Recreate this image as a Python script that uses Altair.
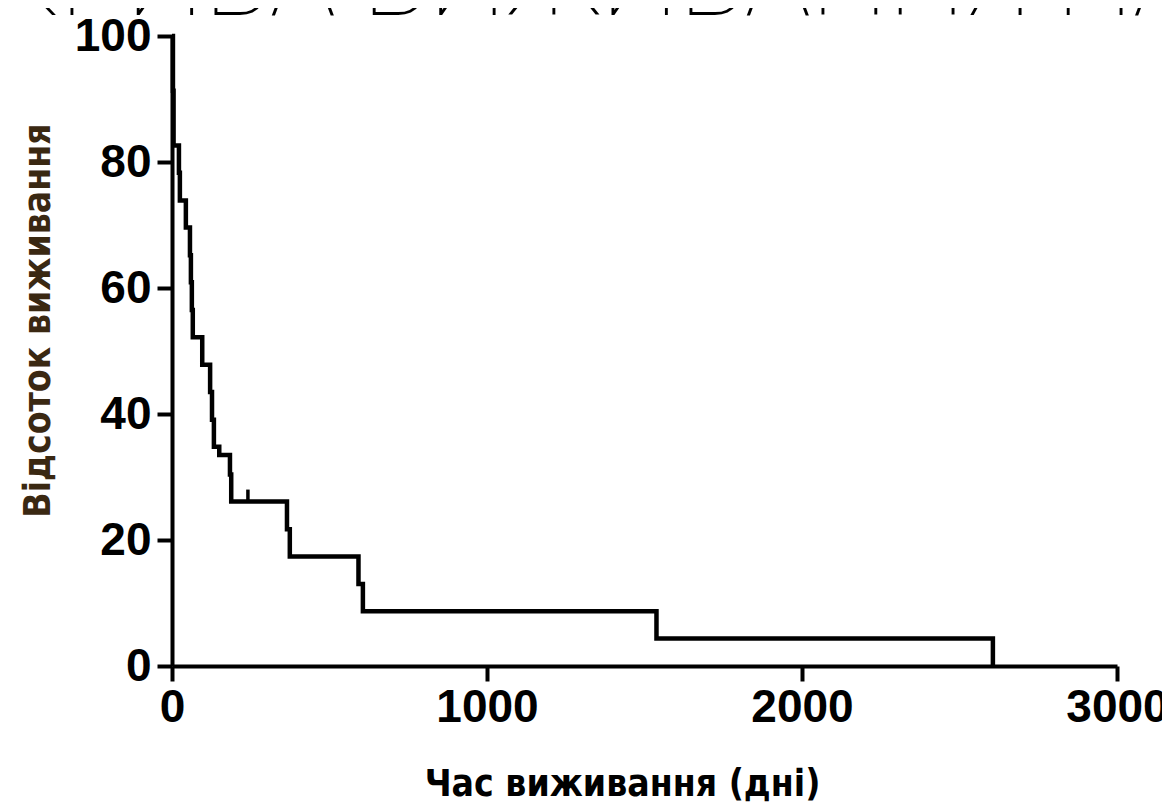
import altair as alt
import pandas as pd

# ---- data ----
title_text = ["КРИВА ВИЖИВАННЯ ПАЦІЄНТІВ ГРУПИ"]

times = [0, 3, 5, 22, 25, 44, 57, 60, 63, 66, 96, 121, 127, 133, 150, 184, 188,
         365, 374, 592, 606, 1538, 2606]
surv = [100, 91.3, 82.6, 78.3, 73.9, 69.6, 65.2, 60.9, 56.5, 52.2, 47.8, 43.5,
        39.1, 34.8, 33.5, 30.4, 26.1, 21.7, 17.4, 13.0, 8.7, 4.35, 0]

censor_t = [241]
censor_s = [26.1]

x_ticks = [0, 1000, 2000, 3000]
y_ticks = [0, 20, 40, 60, 80, 100]

x_title = "Час виживання (дні)"
y_title = "Відсоток виживання"

km = pd.DataFrame({"t": times, "s": surv})
cens = pd.DataFrame({"t": censor_t, "s": censor_s})
ttl = pd.DataFrame({"label": title_text})

x_scale = alt.Scale(domain=[0, 3000], nice=False, zero=True)
y_scale = alt.Scale(domain=[0, 100], nice=False)

title_font = "DejaVu Sans Condensed"

common_axis = dict(
    grid=False, domainColor="black", domainWidth=4, tickColor="black",
    tickWidth=4, tickSize=15, labelFont="Liberation Sans", labelFontWeight="bold",
    labelFontSize=46, labelColor="black", titleFont=title_font,
    titleFontWeight="bold",
)

x_axis = alt.Axis(values=x_ticks, title=x_title, format="d", labelFlush=False,
                  labelPadding=4, titleFontSize=37, titleColor="black",
                  titleX=450, titleY=118, titleAlign="center",
                  titleBaseline="middle", titleAnchor="start", **common_axis)
y_axis = alt.Axis(values=y_ticks, title=y_title, format="d", labelPadding=6,
                  titleFontSize=37, titleColor="#3a2812", titleAngle=-90,
                  titleX=-134, titleY=284, titleAlign="center",
                  titleBaseline="middle", titleAnchor="start", **common_axis)

line = alt.Chart(km).mark_line(
    interpolate="step-after", color="black", strokeWidth=4.5
).encode(
    x=alt.X("t:Q", scale=x_scale, axis=x_axis),
    y=alt.Y("s:Q", scale=y_scale, axis=y_axis),
)

censor = alt.Chart(cens).mark_tick(
    color="black", opacity=1, thickness=3.5, size=12, orient="vertical", yOffset=-6
).encode(
    x=alt.X("t:Q", scale=x_scale),
    y=alt.Y("s:Q", scale=y_scale),
)

top_title = alt.Chart(ttl).mark_text(
    align="left", baseline="alphabetic", font="Roboto", fontWeight=100,
    fontSize=110, color="black"
).encode(
    text="label:N",
    x=alt.value(-182),
    y=alt.value(-21),
)

chart = alt.layer(line, censor, top_title).properties(
    width=945, height=630,
    padding={"left": 164, "top": 28, "right": 45, "bottom": 138},
    autosize=alt.AutoSizeParams(type="none"),
    background="white",
).configure_view(stroke=None)

chart.save("out.html", embed_options={"renderer": "svg", "actions": False})
